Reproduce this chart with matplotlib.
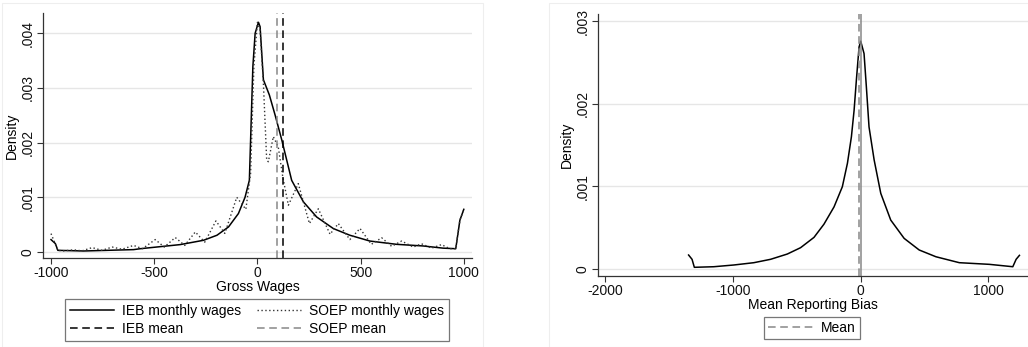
import numpy as np
import matplotlib
matplotlib.use('Agg')
from matplotlib import pyplot as plt
from matplotlib.ticker import FuncFormatter

plt.rcParams['font.family'] = ['Liberation Sans', 'DejaVu Sans']
plt.rcParams['axes.unicode_minus'] = False

# left panel: gross wage densities
ieb_x = [-1000, -979, -967, -842, -729, -600, -567, -438, -374, -261, -196, -140, -92, -60, -39, -32, -22,
         -11, 5, 13, 29, 58, 86, 118, 166, 223, 287, 368, 448, 545, 674, 803, 900, 961, 981, 1000]
ieb_y = [0.000226, 0.000154, 0.00003, 0.000018, 0.00003, 0.000043, 0.00006, 0.00011, 0.000135, 0.000214,
         0.000306, 0.000458, 0.000703, 0.001, 0.00131, 0.00217, 0.00339, 0.0040, 0.0042, 0.00412,
         0.00315, 0.00287, 0.0025, 0.00205, 0.00131, 0.000916, 0.00064, 0.000428, 0.000306, 0.0002,
         0.00014, 0.00011, 0.00007, 0.00006, 0.00058, 0.00078]

soep_x = [-1000, -967, -940, -890, -850, -801, -753, -704, -656, -600, -557, -495, -451, -398, -352, -301,
          -255, -201, -158, -100, -56, -33, -17, 0, 13, 29, 45, 53, 77, 101, 123, 150, 198, 252, 295, 352,
          392, 448, 497, 552, 602, 650, 699, 755, 795, 844, 892, 932, 961, 981, 1000]
soep_y = [0.000336, 0.00003, 0.00002, 0.00004, 0.00002, 0.00008, 0.00003, 0.00009, 0.00005, 0.00012,
          0.00006, 0.000227, 0.00009, 0.000264, 0.00012, 0.000366, 0.00018, 0.000568, 0.00034, 0.001,
          0.00078, 0.00144, 0.0034, 0.0042, 0.00406, 0.00308, 0.00168, 0.00165, 0.00211, 0.00192, 0.00137,
          0.000855, 0.00125, 0.00052, 0.00079, 0.000324, 0.00052, 0.000227, 0.00043, 0.00014, 0.00026,
          0.000104, 0.0002, 0.00009, 0.00015, 0.00007, 0.000135, 0.00006, 0.00006, 0.00058, 0.00078]

ieb_mean = 122
soep_mean = 93

# right panel: mean reporting bias density
bias_x = [-1348, -1321, -1303, -1151, -994, -837, -706, -575, -471, -366, -288, -209, -144, -104, -73,
          -52, -34, -13, 0, 26, 44, 65, 105, 157, 235, 340, 458, 589, 772, 1007, 1191, 1217, 1243]
bias_y = [0.000166, 0.000114, 0.000017, 0.000024, 0.000045, 0.000073, 0.000114, 0.000178, 0.000255,
          0.00038, 0.00054, 0.00075, 0.000994, 0.00128, 0.0016, 0.00192, 0.00229, 0.00269, 0.00276,
          0.00261, 0.00221, 0.00172, 0.00132, 0.000914, 0.00059, 0.000368, 0.000227, 0.000145, 0.000073,
          0.000053, 0.000024, 0.000114, 0.000162]
bias_mean = -13

fig = plt.figure(figsize=(10.28, 3.47), dpi=100)

# faint graph region borders
fig.add_artist(plt.Rectangle((0.002, 0.0), 0.468, 0.99, transform=fig.transFigure,
                             fill=False, ec='#eeeeee', lw=0.8))
fig.add_artist(plt.Rectangle((0.534, 0.0), 0.47, 0.99, transform=fig.transFigure,
                             fill=False, ec='#eeeeee', lw=0.8))


def fmt(v, pos):
    if abs(v) < 1e-12:
        return '0'
    return ('%.3f' % v).lstrip('0')


def style(ax):
    for s in ['top', 'right']:
        ax.spines[s].set_visible(False)
    for s in ['left', 'bottom']:
        ax.spines[s].set_color('#333333')
        ax.spines[s].set_linewidth(0.9)
    ax.yaxis.grid(True, color='#e6e6e6', lw=1)
    ax.set_axisbelow(True)
    ax.yaxis.set_major_formatter(FuncFormatter(fmt))
    ax.tick_params(labelsize=10, length=4, width=0.8, colors='#333333', labelcolor='#111111', pad=2)
    for lab in ax.get_yticklabels():
        lab.set_rotation(90)
        lab.set_va('center')


ax1 = fig.add_axes([0.0418, 0.2565, 0.4172, 0.706])
ax1.plot(ieb_x, ieb_y, color='black', lw=1.1)
ax1.plot(soep_x, soep_y, color='#333333', lw=1.0, ls=(0, (1, 1.8)))
ax1.axvline(ieb_mean, color='black', lw=1.1, ls=(0, (5, 3)))
ax1.axvline(soep_mean, color='#888888', lw=1.1, ls=(0, (5, 3)))
ax1.set_xlim(-1039, 1039)
ax1.set_ylim(-0.00011, 0.00437)
ax1.set_xticks([-1000, -500, 0, 500, 1000])
ax1.set_yticks([0, 0.001, 0.002, 0.003, 0.004])
ax1.set_ylabel('Density', fontsize=10, labelpad=1)
ax1.set_xlabel('Gross Wages', fontsize=10, labelpad=0)
style(ax1)

h = [plt.Line2D([], [], color='black', lw=1.1),
     plt.Line2D([], [], color='black', lw=1.1, ls=(0, (5, 3))),
     plt.Line2D([], [], color='#333333', lw=1.0, ls=(0, (1, 1.8))),
     plt.Line2D([], [], color='#888888', lw=1.1, ls=(0, (5, 3)))]
labs = ['IEB monthly wages', 'IEB mean', 'SOEP monthly wages', 'SOEP mean']
leg = fig.legend(h, labs, ncol=2, loc='center', bbox_to_anchor=(257 / 1028, 1 - 320 / 347),
                 fontsize=10, frameon=True, fancybox=False, edgecolor='#555555',
                 handlelength=3.2, columnspacing=1.1, labelspacing=0.25, borderpad=0.35,
                 handletextpad=0.6)
leg.get_frame().set_linewidth(0.9)

ax2 = fig.add_axes([0.5814, 0.2046, 0.4186, 0.7551])
ax2.plot(bias_x, bias_y, color='black', lw=1.1)
ax2.axvline(0, color='#888888', lw=1.1)
ax2.axvline(bias_mean, color='#888888', lw=1.1, ls=(0, (5, 3)))
ax2.set_xlim(-2060, 1310)
ax2.set_ylim(-0.0000885, 0.00309)
ax2.set_xticks([-2000, -1000, 0, 1000])
ax2.set_yticks([0, 0.001, 0.002, 0.003])
ax2.set_ylabel('Density', fontsize=10, labelpad=1)
ax2.set_xlabel('Mean Reporting Bias', fontsize=10, labelpad=0)
style(ax2)

leg2 = fig.legend([plt.Line2D([], [], color='#888888', lw=1.1, ls=(0, (5, 3)))], ['Mean'],
                  loc='center', bbox_to_anchor=(812 / 1028, 1 - 328 / 347), fontsize=10,
                  frameon=True, fancybox=False, edgecolor='#555555', handlelength=3.2,
                  borderpad=0.3, handletextpad=0.6)
leg2.get_frame().set_linewidth(0.9)

fig.savefig('out.png', dpi=100)
